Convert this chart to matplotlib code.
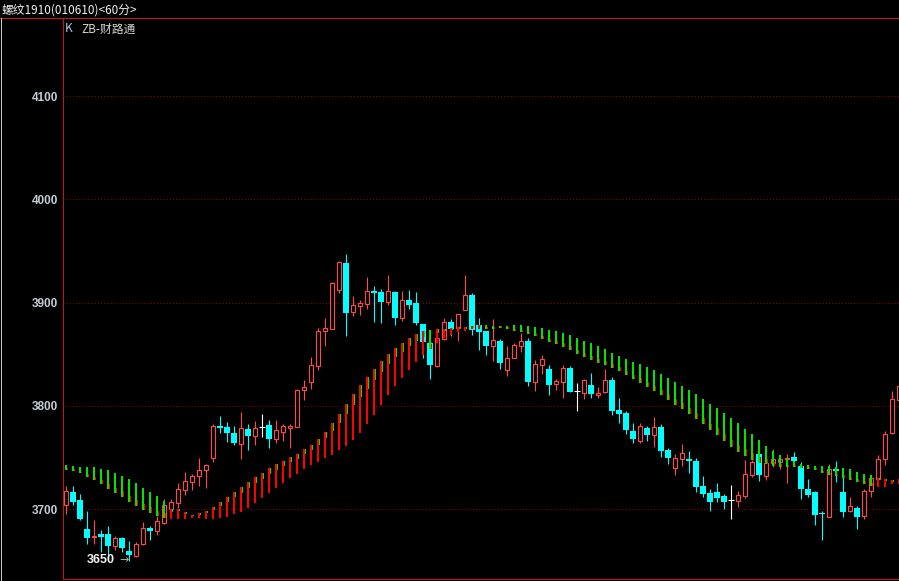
import numpy as np
import matplotlib
matplotlib.use('Agg')
import matplotlib.pyplot as plt
from matplotlib.lines import Line2D

title = '螺纹1910(010610)<60分>'
yticks = [3700, 3800, 3900, 4000, 4100]

opens = [3703.9, 3716.8, 3709.0, 3681.0, 3672.9, 3676.1, 3676.1, 3664.5, 3672.2, 3659.7,
         3654.8, 3666.4, 3681.9, 3679.0, 3686.8, 3700.3, 3706.1, 3718.7, 3726.8, 3732.3,
         3738.1, 3749.7, 3780.7, 3779.7, 3773.9, 3763.2, 3777.8, 3771.0, 3779.7, 3781.6,
         3768.1, 3774.9, 3778.7, 3780.0, 3815.2, 3823.0, 3839.1, 3873.0, 3874.9, 3912.7,
         3938.5, 3891.0, 3897.2, 3898.8, 3911.4, 3910.4, 3900.7, 3910.4, 3885.6, 3902.7,
         3899.8, 3879.4, 3861.0, 3838.8, 3865.2, 3881.4, 3875.9, 3893.3, 3907.5, 3878.5,
         3872.6, 3858.4, 3863.0, 3835.2, 3846.2, 3858.4, 3863.0, 3823.5, 3839.7, 3835.8,
         3821.3, 3823.5, 3836.8, 3814.5, 3812.6, 3820.3, 3811.0, 3813.5, 3825.1, 3796.1,
         3793.2, 3775.8, 3766.1, 3778.7, 3771.9, 3779.7, 3757.4, 3739.9, 3748.7, 3748.7,
         3746.7, 3722.5, 3715.7, 3716.7, 3712.9, 3709.1, 3708.1, 3712.9, 3733.3, 3753.6,
         3732.3, 3745.1, 3745.3, 3748.4, 3750.7, 3742.0, 3719.7, 3716.8, 3696.5, 3692.9,
         3739.1, 3716.7, 3698.0, 3701.3, 3693.9, 3718.1, 3729.6, 3749.0, 3774.0, 3806.0]

highs = [3722.6, 3722.6, 3714.8, 3698.4, 3689.7, 3680.0, 3683.9, 3674.2, 3673.2, 3669.3,
         3668.4, 3687.7, 3683.9, 3693.5, 3710.0, 3710.0, 3725.5, 3736.1, 3734.2, 3749.7,
         3743.9, 3782.6, 3790.3, 3784.5, 3780.7, 3794.2, 3782.6, 3785.5, 3792.3, 3786.5,
         3786.5, 3782.6, 3782.6, 3816.5, 3825.2, 3847.5, 3875.2, 3885.2, 3920.1, 3940.4,
         3947.2, 3906.5, 3902.7, 3924.9, 3916.2, 3913.3, 3926.9, 3911.4, 3911.4, 3912.3,
         3910.4, 3879.4, 3861.0, 3873.6, 3885.2, 3884.3, 3889.1, 3926.9, 3909.4, 3885.2,
         3872.6, 3884.3, 3864.9, 3858.1, 3861.0, 3870.7, 3866.0, 3844.5, 3849.4, 3839.7,
         3826.1, 3839.7, 3838.7, 3822.2, 3826.1, 3831.9, 3818.4, 3835.8, 3828.1, 3807.7,
         3795.1, 3783.5, 3783.5, 3780.6, 3789.3, 3782.6, 3759.3, 3753.5, 3763.2, 3756.4,
         3749.6, 3732.2, 3719.7, 3725.4, 3714.9, 3723.6, 3717.8, 3747.8, 3747.8, 3755.0,
         3746.8, 3758.4, 3750.0, 3753.6, 3755.5, 3745.8, 3729.4, 3717.8, 3698.4, 3743.9,
         3746.8, 3736.0, 3712.0, 3703.3, 3719.7, 3731.6, 3752.6, 3775.8, 3814.6, 3821.0]

lows = [3695.8, 3704.2, 3689.7, 3666.4, 3666.4, 3658.7, 3655.8, 3660.6, 3658.7, 3650.0,
        3653.8, 3665.5, 3670.3, 3675.2, 3685.8, 3698.4, 3701.3, 3713.9, 3718.7, 3722.6,
        3720.6, 3745.8, 3773.9, 3765.2, 3762.3, 3748.7, 3757.4, 3762.3, 3770.0, 3759.4,
        3764.2, 3766.1, 3759.4, 3780.0, 3805.8, 3816.5, 3834.9, 3858.1, 3874.9, 3909.8,
        3867.8, 3887.2, 3888.1, 3893.9, 3881.4, 3880.4, 3897.8, 3878.5, 3882.3, 3893.9,
        3878.5, 3846.5, 3826.2, 3837.8, 3863.9, 3868.1, 3863.3, 3893.3, 3869.1, 3854.6,
        3849.4, 3843.6, 3835.9, 3829.1, 3846.0, 3852.6, 3819.7, 3814.8, 3831.0, 3810.6,
        3815.5, 3807.7, 3813.5, 3795.1, 3806.8, 3807.7, 3807.7, 3812.6, 3791.3, 3783.5,
        3772.9, 3764.2, 3764.2, 3766.1, 3760.3, 3750.6, 3743.8, 3733.2, 3741.9, 3735.1,
        3716.7, 3711.9, 3698.4, 3707.0, 3700.3, 3690.7, 3702.3, 3711.0, 3731.3, 3727.5,
        3728.4, 3740.7, 3739.0, 3725.6, 3746.8, 3710.0, 3712.0, 3684.8, 3669.8, 3692.9,
        3726.6, 3692.7, 3697.4, 3681.0, 3690.2, 3712.3, 3727.5, 3743.0, 3772.9, 3804.0]

closes = [3717.7, 3707.1, 3690.6, 3672.2, 3674.2, 3673.2, 3664.5, 3672.2, 3662.6, 3655.8,
          3666.4, 3681.9, 3679.0, 3688.7, 3704.2, 3707.1, 3719.7, 3727.4, 3732.3, 3738.1,
          3742.9, 3780.7, 3778.7, 3773.9, 3764.2, 3778.7, 3771.0, 3778.7, 3779.7, 3768.1,
          3776.8, 3780.7, 3780.7, 3815.5, 3818.1, 3839.4, 3872.3, 3875.2, 3918.8, 3939.4,
          3890.1, 3897.8, 3899.8, 3911.0, 3909.4, 3900.7, 3911.4, 3885.6, 3902.7, 3897.8,
          3880.4, 3862.3, 3839.7, 3865.5, 3881.4, 3874.9, 3889.1, 3907.5, 3873.6, 3872.0,
          3858.4, 3863.9, 3842.0, 3846.5, 3859.1, 3863.0, 3823.6, 3840.6, 3845.5, 3820.3,
          3824.2, 3836.8, 3813.5, 3814.5, 3825.1, 3811.6, 3812.6, 3825.1, 3795.1, 3792.2,
          3776.7, 3768.0, 3780.6, 3771.9, 3779.7, 3756.4, 3749.6, 3749.6, 3754.5, 3746.7,
          3721.6, 3714.8, 3707.1, 3710.9, 3707.1, 3709.1, 3713.9, 3734.2, 3745.8, 3733.2,
          3744.9, 3748.4, 3748.9, 3749.7, 3746.8, 3719.7, 3713.9, 3694.5, 3695.0, 3739.1,
          3737.4, 3697.6, 3703.3, 3692.8, 3717.8, 3730.0, 3748.7, 3772.9, 3806.8, 3819.0]

# ZB indicator: fast end and slow end of each stick
zb_fast = [3738.1, 3737.1, 3734.8, 3731.6, 3728.4, 3724.5, 3719.7, 3716.1, 3712.3, 3707.4,
           3703.5, 3699.7, 3696.8, 3693.9, 3691.9, 3700.0, 3700.3, 3697.4, 3694.8, 3696.4,
           3698.4, 3702.2, 3707.1, 3711.9, 3716.8, 3721.6, 3726.5, 3731.3, 3735.2, 3740.0,
           3743.9, 3746.8, 3750.7, 3753.6, 3758.4, 3762.3, 3768.1, 3774.9, 3783.6, 3792.3,
           3802.0, 3811.6, 3820.4, 3828.1, 3835.9, 3843.6, 3850.4, 3856.2, 3861.0, 3865.9,
           3869.7, 3872.6, 3855.2, 3874.3, 3874.6, 3875.6, 3876.8, 3876.5, 3877.5, 3878.1,
           3874.6, 3874.6, 3875.9, 3874.6, 3872.6, 3871.7, 3869.7, 3868.1, 3864.9, 3862.3,
           3860.0, 3857.4, 3854.2, 3850.6, 3847.7, 3844.5, 3841.6, 3839.7, 3836.8, 3833.9,
           3830.0, 3826.1, 3822.2, 3818.4, 3814.5, 3810.6, 3805.8, 3800.9, 3797.1, 3792.2,
           3787.4, 3782.6, 3776.7, 3771.9, 3766.2, 3760.4, 3755.5, 3751.6, 3747.8, 3744.9,
           3743.9, 3742.0, 3741.0, 3741.0, 3741.0, 3740.0, 3739.1, 3738.1, 3735.2, 3733.3,
           3732.3, 3730.4, 3728.4, 3726.5, 3724.5, 3722.6, 3730.4, 3729.4, 3728.4, 3729.4]

zb_slow = [3742.9, 3741.9, 3740.6, 3740.6, 3740.6, 3739.0, 3738.1, 3734.8, 3732.3, 3729.4,
           3725.5, 3720.6, 3716.8, 3712.9, 3708.1, 3691.0, 3691.0, 3691.0, 3691.9, 3691.9,
           3691.0, 3691.0, 3691.9, 3692.9, 3695.8, 3697.7, 3701.6, 3706.4, 3711.3, 3716.1,
           3721.0, 3725.8, 3730.6, 3734.2, 3739.4, 3742.9, 3745.8, 3750.0, 3752.6, 3757.8,
           3761.6, 3767.4, 3774.2, 3782.9, 3791.6, 3801.3, 3811.0, 3819.7, 3827.5, 3835.2,
           3843.0, 3849.7, 3873.6, 3860.7, 3865.5, 3868.8, 3872.0, 3873.0, 3874.3, 3874.3,
           3878.1, 3877.8, 3877.5, 3877.5, 3878.1, 3878.1, 3877.5, 3876.8, 3875.5, 3873.6,
           3872.6, 3870.7, 3868.7, 3865.8, 3862.9, 3861.0, 3858.1, 3855.2, 3851.3, 3848.4,
           3845.5, 3842.6, 3840.6, 3837.7, 3834.8, 3831.0, 3827.1, 3823.2, 3819.3, 3815.5,
           3811.6, 3806.8, 3801.9, 3798.0, 3793.3, 3788.4, 3783.6, 3777.8, 3772.9, 3767.1,
           3761.3, 3756.5, 3752.6, 3748.7, 3746.8, 3743.9, 3742.9, 3742.0, 3742.0, 3742.0,
           3741.0, 3740.0, 3739.1, 3736.2, 3734.2, 3733.3, 3721.6, 3722.0, 3724.5, 3724.5]

RED = '#ff4848'
CYAN = '#00ffff'
BAND_RED = '#ff0000'
BAND_GREEN = '#00e400'

o = np.array(opens)
h = np.array(highs)
l = np.array(lows)
c = np.array(closes)
x = np.arange(len(c))

W, H = 899, 581
fig = plt.figure(figsize=(W / 100, H / 100), dpi=100, facecolor='black')
ax = fig.add_axes([63 / W, 2 / H, (W - 63) / W, 561 / H], facecolor='black')
ax.set_xlim(-0.43, 119.0)
ax.set_ylim(3632.5, 4175.6)

for yv in yticks:
    ax.axhline(yv, color='#900000', lw=0.75, ls=(0, (1, 2)), zorder=0)

top = np.maximum(o, c)
bot = np.minimum(o, c)
up = c > o
dn = c < o
fl = c == o

# rising candles: hollow red
ax.vlines(x[up], top[up], h[up], color=RED, lw=0.8, zorder=2)
ax.vlines(x[up], l[up], bot[up], color=RED, lw=0.8, zorder=2)
ax.bar(x[up], np.maximum(top - bot, 0.8)[up], bottom=bot[up], width=0.6,
       facecolor='black', edgecolor=RED, lw=0.8, zorder=3)
# falling candles: filled cyan
ax.vlines(x[dn], l[dn], h[dn], color=CYAN, lw=0.8, zorder=2)
ax.bar(x[dn], np.maximum(top - bot, 1.5)[dn], bottom=bot[dn], width=0.72,
       color=CYAN, lw=0, zorder=3)
# unchanged: white cross
ax.vlines(x[fl], l[fl], h[fl], color='white', lw=0.8, zorder=2)
ax.hlines(c[fl], x[fl] - 0.38, x[fl] + 0.38, color='white', lw=0.8, zorder=3)

# ZB sticks
zf = np.array(zb_fast)
zs = np.array(zb_slow)
rising = zf >= zs
span = np.abs(zf - zs)
ax.bar(x - 0.16, np.maximum(span, 1.0), bottom=np.minimum(zf, zs), width=0.32,
       align='edge', color=np.where(rising, BAND_RED, BAND_GREEN), lw=0,
       antialiased=False, zorder=4)
piece = np.maximum(span * 0.25, 1.6)
ax.bar(x + 0.16, piece, bottom=np.where(rising, zf - piece, zf), width=0.17,
       align='edge', color=np.where(rising, BAND_GREEN, BAND_RED), lw=0,
       antialiased=False, zorder=4)

# lowest point marker
imin = int(np.argmin(l))
ax.text(imin - 2.0, l[imin] + 0.6, f'{l[imin]:.0f}', ha='right', va='center',
        color='#f4f4f4', fontsize=9, fontweight='bold', family='Liberation Sans', zorder=5)
ax.text(imin - 0.72, l[imin] + 0.6, '→', ha='center', va='center',
        color='#b4b4b4', fontsize=8, family='DejaVu Sans', zorder=5)

ax.set_xticks([])
ax.set_yticks(yticks)
ax.set_yticklabels([str(v) for v in yticks], color='#c4ccd6', fontsize=8.5,
                   fontweight='bold', family='Liberation Sans')
ax.tick_params(axis='y', length=0, pad=3.6)
for side in ['top', 'right']:
    ax.spines[side].set_visible(False)
for side in ['left', 'bottom']:
    ax.spines[side].set_color('#c81414')
    ax.spines[side].set_linewidth(0.75)

fig.add_artist(Line2D([0, 1], [1 - 18 / H, 1 - 18 / H], color='#c81414', lw=0.75))
fig.add_artist(Line2D([0.5 / W, 0.5 / W], [0, 1 - 18 / H], color='#c8c8c8', lw=0.75))

fig.text(2 / W, 1 - 10 / H, title, va='center', ha='left', color='#f0f0f0',
         fontsize=8.5, family=['Noto Sans CJK SC', 'DejaVu Sans'])
fig.text(65 / W, 1 - 29 / H, 'K', va='center', ha='left', color='#b4c8e6',
         fontsize=8.5, family=['Noto Sans CJK SC', 'DejaVu Sans'])
fig.text(81 / W, 1 - 29 / H, 'ZB-财路通', va='center', ha='left', color='#d2d2d2',
         fontsize=8.5, family=['Noto Sans CJK SC', 'DejaVu Sans'])

fig.savefig('out.png', dpi=100, facecolor='black')
